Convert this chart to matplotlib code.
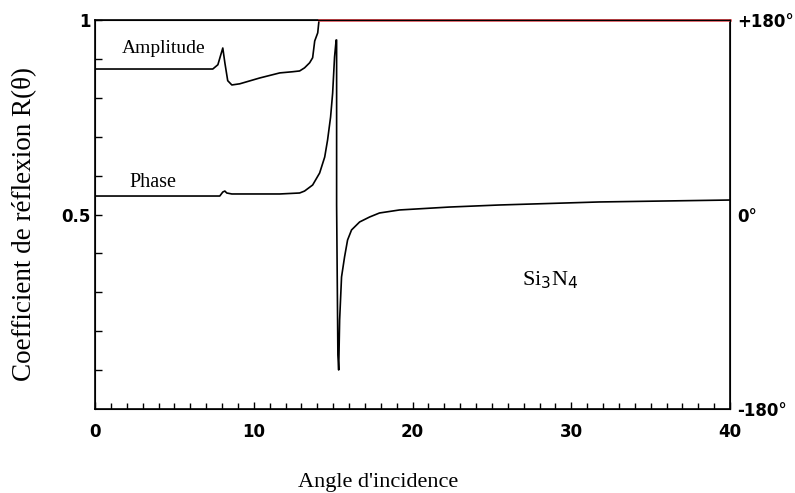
import matplotlib
matplotlib.use("Agg")
import matplotlib.pyplot as plt

# amplitude |R| below the critical angle (left axis, 0..1)
ampAngle = [0.0, 7.42, 7.74, 7.92, 8.05, 8.18, 8.36, 8.62, 9.12, 10.38, 11.64,
            12.45, 12.89, 13.2, 13.52, 13.71, 13.84, 14.03, 14.1]
ampValue = [0.874, 0.874, 0.885, 0.91, 0.928, 0.89, 0.844, 0.833, 0.836, 0.851, 0.864,
            0.867, 0.869, 0.877, 0.89, 0.903, 0.946, 0.967, 0.995]
# total reflection beyond the critical angle
totAngle = [14.1, 40.0]
totValue = [1.0, 1.0]

# phase in degrees (right axis, -180..+180)
phaseAngle = [0.0, 7.42, 7.86, 8.05, 8.18, 8.3, 8.62, 10.38, 11.64, 12.89, 13.2, 13.71,
              14.15, 14.47, 14.65, 14.84, 14.97, 15.09, 15.19, 15.22, 15.22, 15.3, 15.35,
              15.41, 15.53, 15.72, 15.91, 16.16, 16.67, 17.3, 17.92, 19.18, 22.33, 25.47,
              31.76, 40.0]
phaseValue = [17.1, 17.1, 17.1, 20.8, 21.7, 19.9, 19.0, 19.0, 19.0, 19.9, 21.7, 27.3,
              38.4, 53.2, 68.9, 90.2, 112.4, 145.8, 161.5, 161.5, 8.8, -130.0, -143.9,
              -97.6, -57.8, -39.3, -23.6, -14.3, -6.9, -2.3, 1.4, 4.2, 6.9, 8.8,
              11.6, 13.4]

xTicks = [0, 10, 20, 30, 40]
yTicks = [0.5, 1.0]
yTickLabels = ["0.5", "1"]
phaseTicks = [180, 0, -180]
phaseLabels = ["+180°", "0°", "-180°"]

fig = plt.figure(figsize=(7.95, 4.93), dpi=100)
ax = fig.add_axes([95 / 795, 1 - 409 / 493, 635 / 795, 389 / 493])

ax.plot(ampAngle, ampValue, color="black", lw=1.2)
ax.plot(totAngle, totValue, color="#e8484d", lw=1.8, clip_on=False, zorder=5)
ax.set_xlim(0, 40)
ax.set_ylim(0, 1)

ax.set_xticks(xTicks)
ax.set_xticks(range(0, 41), minor=True)
ax.set_yticks(yTicks)
ax.set_yticklabels(yTickLabels)
ax.set_yticks([i / 10 for i in range(1, 10)], minor=True)
ax.tick_params(axis="both", which="both", direction="in", width=1, color="black")
ax.tick_params(axis="x", which="major", length=5, pad=10, labelsize=12)
ax.tick_params(axis="x", which="minor", length=4)
ax.tick_params(axis="y", which="major", length=5, pad=3, labelsize=12)
ax.tick_params(axis="y", which="minor", length=5)
for lab in ax.get_xticklabels() + ax.get_yticklabels():
    lab.set_fontweight("bold")
for sp in ax.spines.values():
    sp.set_linewidth(1.2)

ax2 = ax.twinx()
ax2.plot(phaseAngle, phaseValue, color="black", lw=1.2)
ax2.set_ylim(-180, 180)
ax2.set_yticks(phaseTicks)
ax2.set_yticklabels(phaseLabels)
ax2.tick_params(axis="y", length=0, pad=5, labelsize=12)
for lab in ax2.get_yticklabels():
    lab.set_fontweight("bold")

serif = {"family": "Liberation Serif", "color": "black"}
ax.text(1.7, 0.926, "Amplitude", fontsize=14, ha="left", va="center", **serif)
ax.text(2.2, 0.581, "Phase", fontsize=14.5, ha="left", va="center", **serif)
ax.text(26.9, 0.33, "Si$_3$N$_4$", fontsize=16, ha="left", va="center", **serif)

fig.text(378 / 795, 1 - 482 / 493, "Angle d'incidence", fontsize=16, ha="center", va="center", **serif)
fig.text(25 / 795, 1 - 224 / 493, "Coefficient de réflexion R(θ)", fontsize=19.5, rotation=90,
         ha="center", va="center", **serif)

fig.savefig("out.png", dpi=100)
